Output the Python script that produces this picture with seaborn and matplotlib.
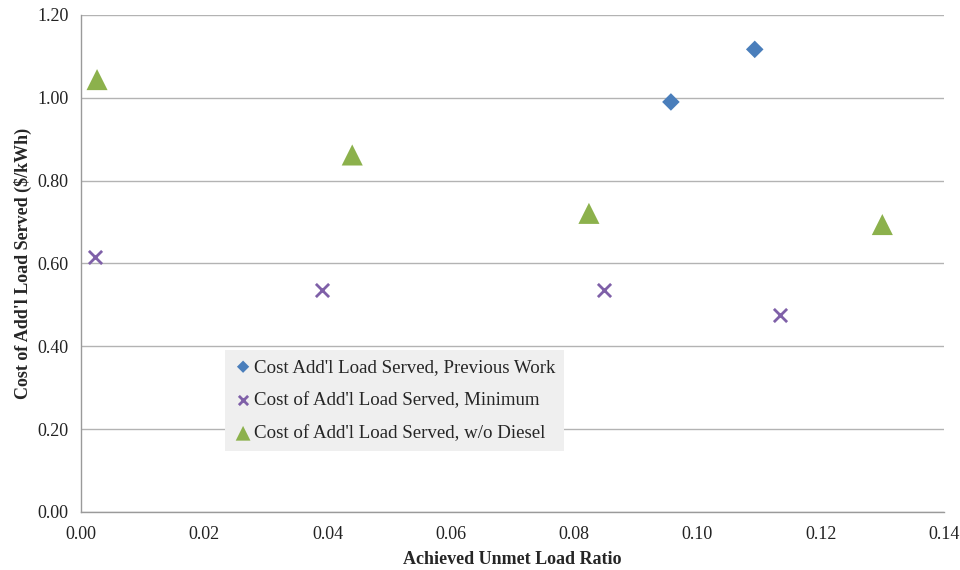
import numpy as np
import pandas as pd
import matplotlib
matplotlib.use("Agg")
import matplotlib.pyplot as plt
import seaborn as sns

# Series values
prev_x = [0.0957, 0.1093]
prev_y = [0.990, 1.117]
min_x = [0.0023, 0.0391, 0.0848, 0.1134]
min_y = [0.616, 0.536, 0.536, 0.476]
nodsl_x = [0.0026, 0.0440, 0.0824, 0.1300]
nodsl_y = [1.044, 0.862, 0.721, 0.694]

series_names = [
    "Cost Add'l Load Served, Previous Work",
    "Cost of Add'l Load Served, Minimum",
    "Cost of Add'l Load Served, w/o Diesel",
]
x_ticks = [0.00, 0.02, 0.04, 0.06, 0.08, 0.10, 0.12, 0.14]
y_ticks = [0.00, 0.20, 0.40, 0.60, 0.80, 1.00, 1.20]

df = pd.concat([
    pd.DataFrame({"x": prev_x, "y": prev_y, "series": series_names[0]}),
    pd.DataFrame({"x": min_x, "y": min_y, "series": series_names[1]}),
    pd.DataFrame({"x": nodsl_x, "y": nodsl_y, "series": series_names[2]}),
], ignore_index=True)

sns.set_style("white")
plt.rcParams["font.family"] = ["Liberation Serif", "DejaVu Serif"]

fig = plt.figure(figsize=(9.6, 5.7), dpi=100)
ax = fig.add_axes([0.0844, 0.1018, 0.8989, 0.8719])

palette = {series_names[0]: "#4a7ebb", series_names[1]: "#7f60a8", series_names[2]: "#8cb14c"}
markers = {series_names[0]: "D", series_names[1]: "x", series_names[2]: "^"}
sizes = {series_names[0]: 80, series_names[1]: 90, series_names[2]: 230}

for name in series_names:
    sub = df[df["series"] == name]
    kw = dict(linewidth=2) if markers[name] == "x" else dict(edgecolor="none")
    sns.scatterplot(data=sub, x="x", y="y", ax=ax, color=palette[name],
                    marker=markers[name], s=sizes[name], label=name,
                    zorder=3, clip_on=False, **kw)

ax.set_xlim(0, 0.14)
ax.set_ylim(0, 1.20)
ax.set_xticks(x_ticks)
ax.set_yticks(y_ticks)
ax.set_xticklabels([f"{v:.2f}" for v in x_ticks])
ax.set_yticklabels([f"{v:.2f}" for v in y_ticks])
ax.yaxis.grid(True, color="#b3b3b3", linewidth=1)
ax.xaxis.grid(False)
ax.set_axisbelow(True)

for s in ["top", "right"]:
    ax.spines[s].set_visible(False)
for s in ["left", "bottom"]:
    ax.spines[s].set_color("#9a9a9a")
    ax.spines[s].set_linewidth(1)

ax.tick_params(axis="both", labelsize=13, colors="#222222", length=5,
               direction="out", width=1)
ax.tick_params(axis="x", color="#9a9a9a", pad=5)
ax.tick_params(axis="y", color="#9a9a9a", pad=4)

ax.set_xlabel("Achieved Unmet Load Ratio", fontsize=13, fontweight="bold", labelpad=6)
ax.set_ylabel("Cost of Add'l Load Served ($/kWh)", fontsize=13, fontweight="bold", labelpad=4)

leg = ax.legend(loc="upper left", bbox_to_anchor=(0.167, 0.326), fontsize=13.6,
                frameon=True, facecolor="#efefef", edgecolor="none", fancybox=False,
                handletextpad=0.1, handlelength=1.0, borderpad=0.45,
                labelspacing=0.85, markerscale=0.7, borderaxespad=0)
leg.get_frame().set_alpha(1)

fig.savefig("out.png", dpi=100)
